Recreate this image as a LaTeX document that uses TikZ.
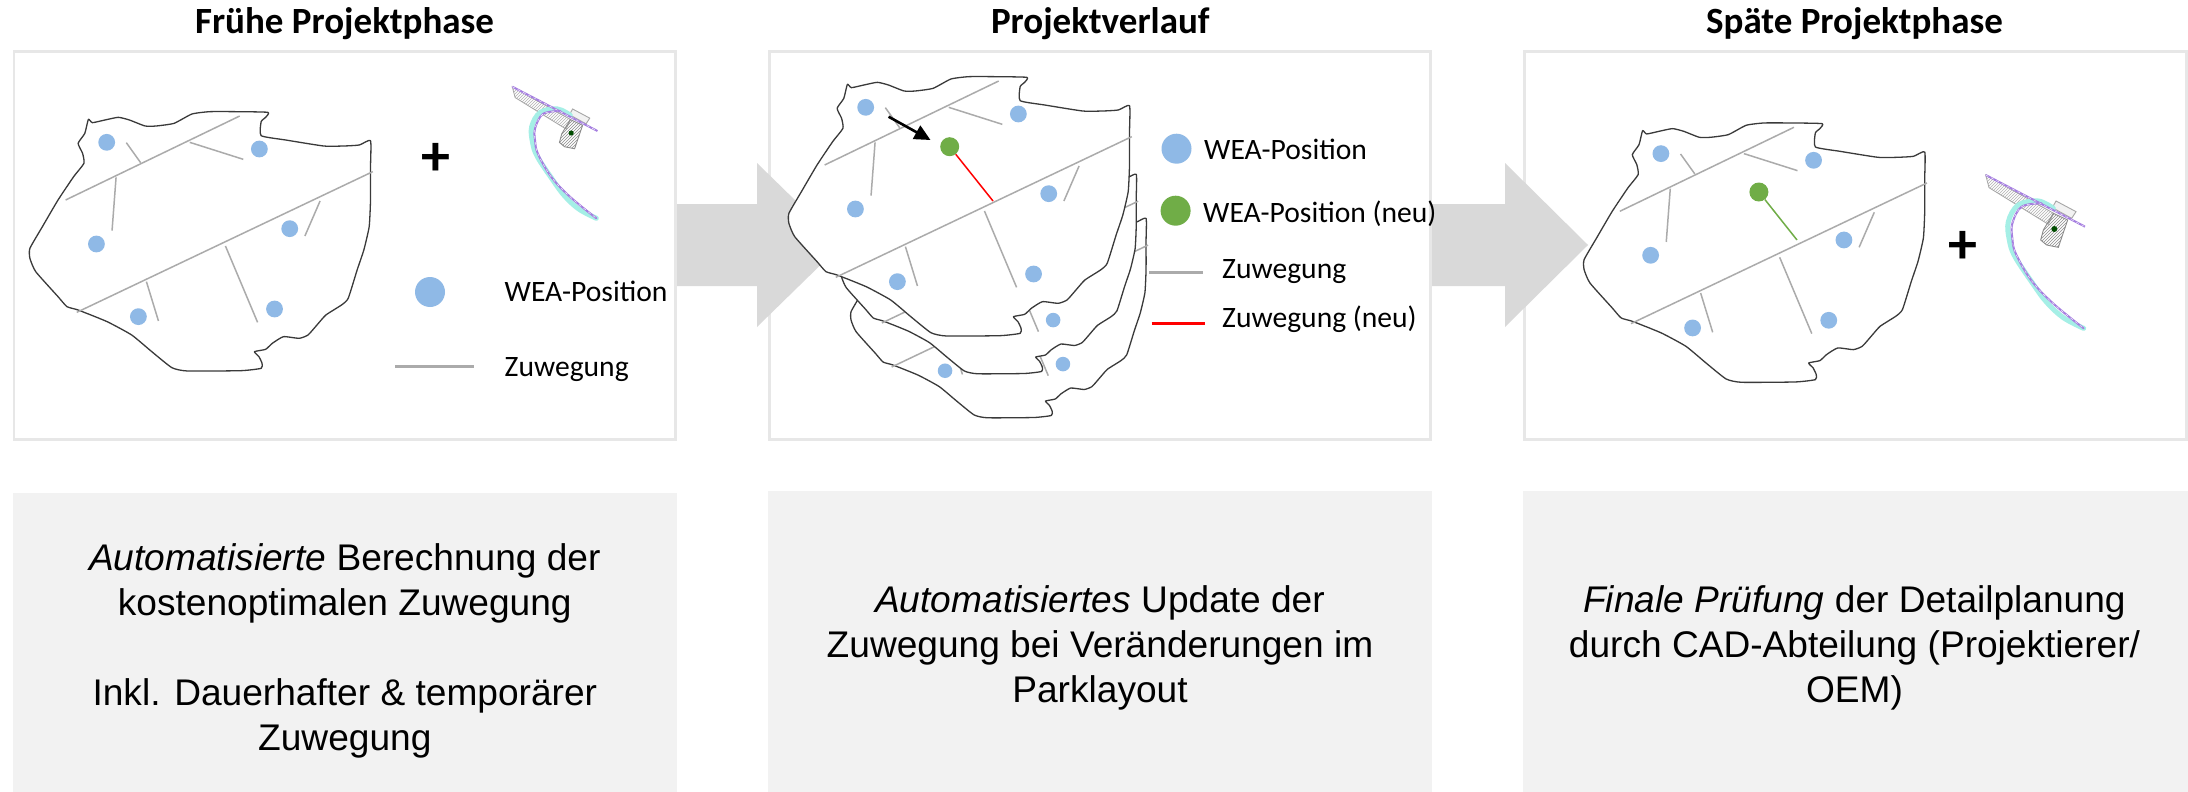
\documentclass[tikz,border=0pt]{standalone}
\usepackage{fontspec}
\setmainfont{Liberation Sans}
\newfontfamily\carl{Carlito}
\usetikzlibrary{arrows.meta,patterns}
\definecolor{frameg}{HTML}{E7E7E7}
\definecolor{boxg}{HTML}{F2F2F2}
\definecolor{arrowg}{HTML}{D9D9D9}
\definecolor{wea}{HTML}{8FB9E6}
\definecolor{weanew}{HTML}{70AD47}
\definecolor{road}{HTML}{ABABAB}
\definecolor{outl}{HTML}{3A3A3A}
\definecolor{cyanroad}{HTML}{A5EFE6}
\definecolor{purpl}{HTML}{A57EE0}
\tikzset{
 x=1pt,y=-1pt,
 panelbox/.style={draw=frameg,line width=2.6pt,fill=white},
 textbox/.style={fill=boxg,draw=none},
 bigarrow/.style={fill=arrowg,draw=none},
 parkline/.style={draw=outl,line width=1.3pt,fill=white,line join=round},
 roadline/.style={draw=road,line width=1.5pt},
 weadot/.style={circle,fill=wea,draw=none,inner sep=0pt},
 newdot/.style={circle,fill=weanew,draw=none,inner sep=0pt},
 titletext/.style={font=\carl\bfseries\fontsize{37}{44}\selectfont,anchor=base},
 legendtext/.style={font=\carl\fontsize{29.6}{34}\selectfont,anchor=base west,inner sep=0pt},
 plustext/.style={font=\carl\bfseries\fontsize{58}{60}\selectfont,inner sep=0pt},
 bodytext/.style={font=\fontsize{37.1}{44.8}\selectfont,align=center,anchor=center,inner sep=0pt},
 keyline/.style={line width=3pt},
}
\newcommand{\parkshape}[4]{%
\begin{scope}[shift={(#1,#2)},xscale=#3/2.24,yscale=#3/3]
\draw[parkline] plot[smooth cycle,tension=0.3] coordinates {(198,358)(207,368)(235,360)(265,352)(290,360)(325,378)(350,378)(390,370)(430,342)(470,335)(530,335)(600,337)(595,352)(585,365)(585,407)(640,420)(725,438)(770,438)(805,435)(830,422)(830,500)(830,600)(827,680)(815,750)(800,810)(780,895)(765,915)(730,945)(710,975)(690,1005)(670,1015)(635,1010)(610,1030)(595,1048)(570,1055)(580,1070)(587,1090)(585,1105)(540,1112)(420,1113)(385,1103)(340,1055)(295,1005)(240,965)(175,930)(150,920)(130,890)(80,815)(67,775)(67,745)(95,680)(130,600)(165,530)(188,490)(185,460)(175,430)(190,400)};
\foreach \a/\b/\c/\d in {147/600/537/348,172/937/835/515,283/428/315/488,425/427/545/478,260/532/251/692,717/603/683/708,505/738/577/967,328/845/355/963}
 \draw[roadline] (\a,\b) -- (\c,\d);
\foreach \n/\a/\b in {a/239/427,b/581/447,c/216/732,d/649/686,e/615/927,f/310/950}
 \node[weadot,minimum size={#3*16.8pt}] (#4\n) at (\a,\b) {};
\end{scope}}
\newcommand{\turbine}[3]{%
\begin{scope}[shift={(#1,#2)},scale=#3/3]
\draw[draw=black!35,line width=.8pt,pattern=north east lines,pattern color=black!30] (32,30) -- (42,68) -- (220,178) -- (236,145) -- cycle;
\draw[fill=black!5,draw=black!35,line width=.9pt] (243,108) -- (303,140) -- (290,160) -- (232,128) -- cycle;
\draw[draw=black!45,line width=.9pt,pattern=north east lines,pattern color=black!45] (235,145) -- (278,165) -- (250,247) -- (215,240) -- (197,225) -- (205,195) -- cycle;
\draw[cyanroad,line width=5pt,line cap=round] plot[smooth,tension=.6] coordinates {(235,130)(190,108)(130,120)(100,170)(103,225)(120,275)(175,358)(215,412)(265,458)(326,490)};
\draw[purpl,line width=2pt,line cap=round] plot[smooth,tension=.6] coordinates {(200,115)(140,125)(112,175)(112,220)(122,265)(168,345)(234,415)(326,490)};
\draw[white,line width=.4pt,dashed] plot[smooth,tension=.6] coordinates {(200,115)(140,125)(112,175)(112,220)(122,265)(168,345)(234,415)(326,490)};
\draw[purpl,line width=2pt] (32,30) -- (330,185);
\draw[white,line width=.4pt,dashed] (32,30) -- (330,185);
\fill[green!30!black] (238,192) circle (9);
\end{scope}}
\begin{document}
\begin{tikzpicture}
\useasboundingbox (0,0) rectangle (2188,792);
% frames
\draw[panelbox] (13.8,51.3) rectangle (675.7,439.4);
\draw[panelbox] (769.3,51.3) rectangle (1430.7,439.4);
\draw[panelbox] (1524.3,51.3) rectangle (2186.7,439.4);
% text boxes
\fill[textbox] (12.8,492.5) rectangle (677,792);
\fill[textbox] (767.7,491) rectangle (1431.6,792);
\fill[textbox] (1523,491) rectangle (2188,792);
% arrows
\fill[bigarrow] (677,204) -- (757,204) -- (757,163) -- (841,245) -- (757,327) -- (757,286) -- (677,286) -- cycle;
\fill[bigarrow] (1432,204) -- (1505,204) -- (1505,163) -- (1588,245) -- (1505,327) -- (1505,286) -- (1432,286) -- cycle;
% titles
\node[titletext] (t1) at (344.6,34) {Frühe Projektphase};
\node[titletext] (t2) at (1100.3,34) {Projektverlauf};
\node[titletext] (t3) at (1854.5,34) {Späte Projektphase};
% panel 1
\parkshape{0}{0}{1}{pa}
\node[plustext] (plusa) at (436,159) {+};
\turbine{503.1}{78.1}{0.858}
\node[weadot,minimum size=30pt] (kwa) at (430,292) {};
\node[legendtext] (lwa) at (504.5,301.7) {WEA-Position};
\coordinate (kra1) at (395,366.7);
\coordinate (kra2) at (474,366.7);
\draw[road,keyline] (kra1) -- (kra2);
\node[legendtext] (lra) at (504.5,376.7) {Zuwegung};
% panel 2
\parkshape{825.2}{96.5}{0.866}{pd}
\parkshape{815.4}{52.5}{0.866}{pc}
\parkshape{759}{-35}{1}{pb}
\node[newdot,minimum size=19pt] (gb) at (949.7,146.7) {};
\coordinate (rb) at (993,201);
\draw[red,line width=1.5pt] (gb) -- (rb);
\coordinate (ab1) at (888.6,116.7);
\coordinate (ab2) at (930.5,140);
\draw[-{Triangle[length=16pt,width=15pt]},line width=2.6pt] (ab1) -- (ab2);
\node[weadot,minimum size=30pt] (kwb) at (1176.5,148.7) {};
\node[legendtext] (lwb) at (1204,159) {WEA-Position};
\node[newdot,minimum size=30pt] (kgb) at (1175.6,210.7) {};
\node[legendtext] (lgb) at (1203,222.7) {WEA-Position (neu)};
\coordinate (krb1) at (1149,272.7);
\coordinate (krb2) at (1203,272.7);
\draw[road,keyline] (krb1) -- (krb2);
\node[legendtext] (lrb) at (1222,278.3) {Zuwegung};
\coordinate (knb1) at (1151.5,323);
\coordinate (knb2) at (1205,323);
\draw[red,keyline] (knb1) -- (knb2);
\node[legendtext] (lnb) at (1222,327.3) {Zuwegung (neu)};
% panel 3
\parkshape{1554.2}{11.3}{1}{pe}
\node[newdot,minimum size=19pt] (ge) at (1758.9,192) {};
\coordinate (re) at (1797,240);
\draw[weanew,line width=1.5pt] (ge) -- (re);
\node[plustext] (pluse) at (1963,247) {+};
\turbine{1975}{165}{1}
% body text
\node[bodytext] (ba) at (344.8,651) {\itshape Automatisierte\upshape{} Berechnung der\\kostenoptimalen Zuwegung\\[44.8pt]Inkl. Dauerhafter \& temporärer\\Zuwegung};
\node[bodytext] (bb) at (1100,648) {\itshape Automatisiertes\upshape{} Update der\\Zuwegung bei Veränderungen im\\Parklayout};
\node[bodytext] (bc) at (1854.5,648) {\itshape Finale Prüfung\upshape{} der Detailplanung\\durch CAD-Abteilung (Projektierer/\\OEM)};
\end{tikzpicture}
\end{document}
